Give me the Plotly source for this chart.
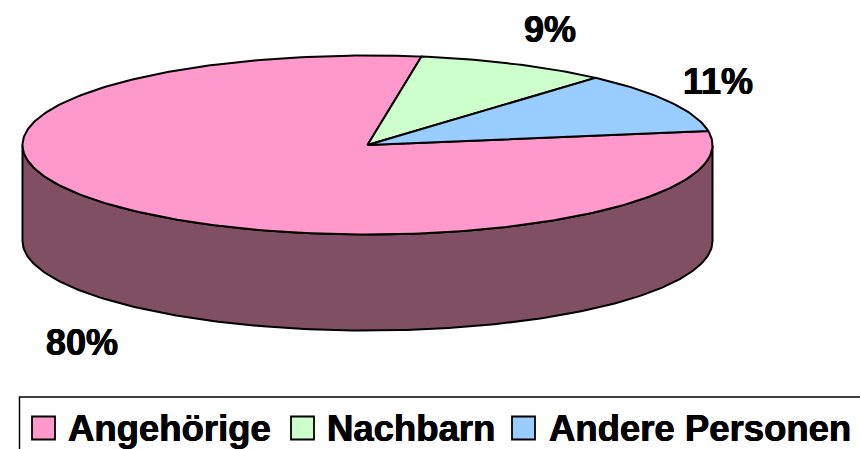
import numpy as np
import plotly.graph_objects as go

categories = ["Angehörige", "Nachbarn", "Andere Personen"]
values = [80, 9, 11]
value_labels = ["80%", "9%", "11%"]
top_colors = ["#FF99CC", "#CCFFCC", "#99CCFF"]
side_color = "#804F63"

W, H = 860, 449
CX, CY, RX, RY, DEPTH = 367.5, 145, 345, 89.5, 96
START_DEG = 9.0  # parametric angle where the first slice starts, running clockwise
LINE = dict(color="#000000", width=2)
LABEL_POS = [(82, 345.5), (550, 32.5), (718, 85)]
SWATCH_X = [43.5, 302.5, 523.5]
TEXT_X = [67.5, 326.5, 548.5]
LEGEND_Y = 428
SHADOW = "0.4px 0 0 #000, -0.4px 0 0 #000"


def arc(t0, t1, dy=0.0, n=180):
    t = np.radians(np.linspace(t0, t1, n))
    return CX + RX * np.cos(t), CY + dy - RY * np.sin(t)


fig = go.Figure()

# side wall
x1, y1 = arc(180, 360)
x2, y2 = arc(360, 180, DEPTH)
fig.add_trace(go.Scatter(
    x=np.r_[x1, x2, x1[0]], y=np.r_[y1, y2, y1[0]], mode="lines",
    fill="toself", fillcolor=side_color, line=LINE, hoverinfo="skip", showlegend=False))

# top slices
angle = START_DEG
for cat, val, col in zip(categories, values, top_colors):
    sweep = val / sum(values) * 360
    ax, ay = arc(angle, angle - sweep, n=max(int(sweep), 8))
    fig.add_trace(go.Scatter(
        x=np.r_[CX, ax, CX], y=np.r_[CY, ay, CY], mode="lines", name=cat,
        fill="toself", fillcolor=col, line=LINE, showlegend=False))
    angle -= sweep

# percent labels
fig.add_trace(go.Scatter(
    x=[p[0] for p in LABEL_POS], y=[p[1] for p in LABEL_POS], text=value_labels,
    mode="text", textposition="middle center",
    textfont=dict(family="Liberation Sans", size=36, color="#000000", weight="bold", shadow=SHADOW),
    hoverinfo="skip", showlegend=False))

# legend
fig.add_shape(type="rect", x0=19.5, x1=900, y0=397, y1=500,
              line=dict(color="#000000", width=1.5), fillcolor="rgba(0,0,0,0)")
fig.add_trace(go.Scatter(
    x=SWATCH_X, y=[LEGEND_Y] * 3, mode="markers",
    marker=dict(symbol="square", size=23, color=top_colors,
                line=dict(color="#000000", width=1.8)),
    hoverinfo="skip", showlegend=False))
for cat, tx in zip(categories, TEXT_X):
    fig.add_annotation(x=tx, y=LEGEND_Y, text=cat, showarrow=False, xanchor="left",
                       yanchor="middle", xshift=-2,
                       font=dict(family="Liberation Sans", size=36.5, color="#000000", weight="bold", shadow=SHADOW))

fig.update_xaxes(range=[0, W], visible=False, fixedrange=True)
fig.update_yaxes(range=[H, 0], visible=False, fixedrange=True)
fig.update_layout(width=W, height=H, margin=dict(l=0, r=0, t=0, b=0),
                  paper_bgcolor="#FFFFFF", plot_bgcolor="#FFFFFF", showlegend=False)
fig.write_html("out.html", config={"displayModeBar": False},
               post_script="document.body.style.margin='0';document.documentElement.style.overflow='hidden';")
